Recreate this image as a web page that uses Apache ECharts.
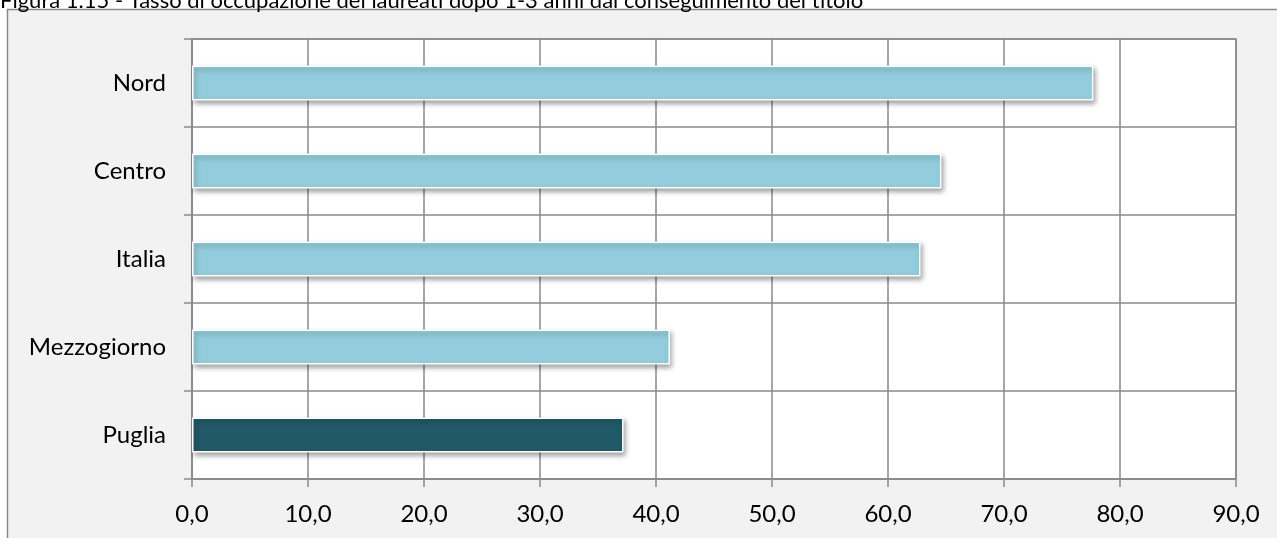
<!DOCTYPE html>
<html>
<head>
<meta charset="utf-8">
<script src="https://cdn.jsdelivr.net/npm/echarts@6/dist/echarts.min.js"></script>
<style>
  html, body { margin: 0; padding: 0; background: #fff; }
  #main { width: 1277px; height: 538px; }
</style>
</head>
<body>
<div id="main"></div>
<script>
  // dati
  var categorie = ['Nord', 'Centro', 'Italia', 'Mezzogiorno', 'Puglia'];
  var valori = [77.7, 64.6, 62.8, 41.2, 37.2];
  var evidenziata = 'Puglia';

  var chiaro = '#93cddd';
  var scuro = '#215968';

  var myChart = echarts.init(document.getElementById('main'));

  myChart.setOption({
    animation: false,
    backgroundColor: '#fff',
    textStyle: { fontFamily: 'Lato' },
    graphic: [
      {
        type: 'rect',
        z: -10,
        shape: { x: 7.5, y: 9.5, width: 1290, height: 540 },
        style: { fill: '#f2f2f2', stroke: '#8a8a8a', lineWidth: 1.5 }
      },
      {
        type: 'text',
        z: -5,
        x: 0,
        y: 12,
        style: {
          text: 'Figura 1.15 - Tasso di occupazione dei laureati dopo 1-3 anni dal conseguimento del titolo',
          fontFamily: 'Lato',
          fontSize: 22,
          verticalAlign: 'bottom',
          fill: '#000'
        }
      }
    ],
    grid: {
      left: 192,
      right: 41,
      top: 39,
      bottom: 59,
      show: true,
      backgroundColor: '#fff',
      borderColor: '#8a8a8a',
      borderWidth: 1.5
    },
    xAxis: {
      type: 'value',
      min: 0,
      max: 90,
      interval: 10,
      axisLine: { show: true, lineStyle: { color: '#8a8a8a', width: 1.5 } },
      axisTick: { show: true, length: 8, lineStyle: { color: '#8a8a8a', width: 1.5 } },
      splitLine: { show: true, lineStyle: { color: '#8a8a8a', width: 1.5 } },
      axisLabel: {
        color: '#000',
        fontSize: 24,
        margin: 23,
        formatter: function (v) { return v.toFixed(1).replace('.', ','); }
      }
    },
    yAxis: {
      type: 'category',
      inverse: true,
      data: categorie,
      axisLine: { show: true, lineStyle: { color: '#8a8a8a', width: 1.5 } },
      axisTick: { show: true, length: 8, lineStyle: { color: '#8a8a8a', width: 1.5 } },
      splitLine: { show: true, lineStyle: { color: '#8a8a8a', width: 1.5 } },
      axisLabel: { color: '#000', fontSize: 24, margin: 26 }
    },
    series: [{
      type: 'bar',
      barWidth: 35,
      data: valori.map(function (v, i) {
        return {
          value: v,
          itemStyle: { color: categorie[i] === evidenziata ? scuro : chiaro }
        };
      }),
      itemStyle: {
        borderColor: '#fff',
        borderWidth: 1.5,
        shadowBlur: 5,
        shadowOffsetX: 2,
        shadowOffsetY: 3,
        shadowColor: 'rgba(0,0,0,0.35)'
      }
    }]
  });
</script>
</body>
</html>
